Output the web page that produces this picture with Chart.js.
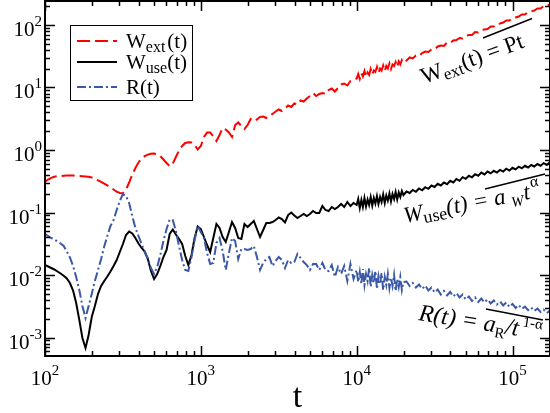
<!DOCTYPE html>
<html><head><meta charset="utf-8">
<script src="https://cdn.jsdelivr.net/npm/chart.js@4/dist/chart.umd.min.js"></script>
<style>html,body{margin:0;padding:0;background:#fff;}#wrap{width:550px;height:413px;}</style>
</head><body><div id="wrap"><canvas id="c" width="550" height="413"></canvas></div>
<script>
// time axis samples
const tVals = [100,104.7,109.6,114.8,120.2,125.9,131.8,138.0,144.5,151.4,158.5,166.0,173.8,182.0,190.5,199.5,208.9,218.8,229.1,239.9,
251.2,263.0,275.4,288.4,302.0,316.2,331.1,346.7,363.1,380.2,398.1,416.9,436.5,457.1,478.6,501.2,524.8,549.5,575.4,602.6,
631.0,660.7,691.8,724.4,758.6,794.3,831.8,871.0,912.0,955.0,1000,1047,1096,1148,1202,1259,1318,1380,1445,1514,
1585,1660,1738,1820,1905,1995,2089,2188,2291,2399,2512,2630,2754,2884,3020,3162,3311,3467,3631,3802,
3981,4169,4365,4571,4786,5012,5248,5495,5754,6026,6310,6607,6918,7244,7586,7943,8318,8710,9120,9550,
10000,10230,10470,10720,10960,11220,11480,11750,12020,12300,12590,12880,13180,13490,13800,14130,14450,14790,15140,15490,
15850,16220,16600,16980,17380,17780,18200,18620,19050,19500,19950,20890,21880,22910,23990,25120,26300,27540,28840,30200,
31620,33110,34670,36310,38020,39810,41690,43650,45710,47860,50120,52480,54950,57540,60260,63100,66070,69180,72440,75860,
79430,83180,87100,91200,95500,100000,104700,109600,114800,120200,125900,131800,138000,144500,151400,158500,166000,173800];

const wExt = [0.311,0.337,0.359,0.374,0.381,0.384,0.387,0.390,0.391,0.390,0.387,0.384,0.381,0.377,0.372,0.363,0.350,0.327,0.308,0.290,
0.271,0.253,0.233,0.215,0.205,0.203,0.233,0.302,0.405,0.515,0.631,0.731,0.796,0.844,0.872,0.876,0.853,0.796,0.705,0.619,
0.549,0.608,0.773,0.982,1.159,1.294,1.333,1.318,1.202,1.019,1.159,1.614,1.905,1.905,1.644,1.393,1.738,2.249,2.128,1.905,
1.614,2.512,2.754,2.421,2.168,2.512,3.133,2.911,3.076,3.373,3.436,3.251,3.565,3.767,4.130,4.446,4.207,4.613,5.152,4.875,
5.546,5.346,6.194,5.970,6.668,7.311,8.166,7.311,7.870,8.166,7.870,9.120,9.638,8.630,9.817,11.17,11.59,10.76,12.71,13.18,
13.93,16.44,13.68,17.06,15.00,18.37,14.72,17.38,15.85,19.77,16.14,18.71,17.70,21.28,17.06,20.14,18.71,22.49,18.37,22.08,
20.14,24.21,19.77,23.33,22.08,25.59,21.28,26.06,23.33,27.54,25.12,27.04,30.20,29.11,32.51,31.92,35.65,37.67,36.98,40.55,
40.55,45.29,46.99,46.13,52.48,51.52,56.49,57.54,61.94,60.81,66.68,69.18,69.18,77.27,75.86,83.18,84.72,86.30,94.62,94.62,
103.7,105.7,109.6,118.0,118.0,129.4,131.8,136.8,147.2,147.2,161.4,164.4,170.6,183.7,183.7,201.4,205.1,212.8];

const wUse = [0.01445,0.01368,0.01294,0.01225,0.01138,0.01057,0.00971,0.00879,0.00745,0.00565,0.00356,0.00191,0.000982,0.000679,0.001096,0.00213,0.00319,0.00497,0.00667,0.00802,
0.00946,0.01138,0.01393,0.01738,0.02333,0.03133,0.04365,0.04966,0.04613,0.03908,0.03192,0.02704,0.02377,0.01803,0.01159,0.00863,0.01038,0.01393,0.01941,0.02512,
0.04529,0.05346,0.04446,0.03767,0.03133,0.02014,0.01445,0.02089,0.03908,0.0597,0.05445,0.04055,0.0302,0.02333,0.03908,0.06546,0.05649,0.04055,0.03373,0.04875,
0.07047,0.05649,0.03908,0.03767,0.06546,0.05861,0.06546,0.07311,0.05445,0.04055,0.05248,0.06792,0.06792,0.07047,0.07586,0.08318,0.0787,0.06918,0.0912,0.1,
0.08954,0.08166,0.0879,0.09462,0.0879,0.09462,0.1057,0.0982,0.0982,0.127,0.1096,0.1057,0.1225,0.1138,0.1225,0.1368,0.1225,0.1472,0.127,0.1419,
0.1318,0.1644,0.118,0.1585,0.1225,0.1706,0.1247,0.1614,0.1318,0.177,0.1294,0.1706,0.1393,0.1837,0.1368,0.177,0.1472,0.1941,0.1419,0.1871,
0.1556,0.2014,0.15,0.1977,0.1644,0.2128,0.1614,0.2089,0.177,0.2208,0.1905,0.2168,0.2051,0.2291,0.2144,0.2421,0.2266,0.254,0.2395,0.2704,
0.2559,0.2879,0.2704,0.302,0.2837,0.3216,0.302,0.3436,0.3216,0.3671,0.3462,0.3866,0.3658,0.41,0.3881,0.4349,0.407,0.4512,0.4223,0.4647,
0.4349,0.4804,0.4512,0.5022,0.4699,0.5191,0.4893,0.5405,0.5078,0.5587,0.5248,0.5754,0.5445,0.597,0.5608,0.6171,0.5797,0.6332];

const rVals = [0.04529,0.04207,0.03908,0.03698,0.03436,0.03192,0.02911,0.02377,0.01905,0.01393,0.00929,0.00575,0.00319,0.00205,0.00319,0.00497,0.00802,0.01202,0.01803,0.02858,
0.04207,0.06081,0.07586,0.1096,0.1528,0.1977,0.1837,0.1419,0.0879,0.05649,0.04207,0.03133,0.02333,0.01837,0.01294,0.01038,0.01343,0.02089,0.03499,0.05445,
0.07727,0.07586,0.05058,0.02911,0.01738,0.01202,0.01159,0.01941,0.03631,0.06081,0.04875,0.03908,0.02249,0.015,0.01556,0.03251,0.03908,0.02421,0.01202,0.02249,
0.03908,0.03499,0.01803,0.02606,0.02606,0.02512,0.02606,0.02911,0.01941,0.01202,0.01556,0.01803,0.01941,0.01393,0.01675,0.01941,0.01738,0.01294,0.01738,0.01556,
0.01614,0.02168,0.01871,0.01614,0.01445,0.01202,0.015,0.015,0.01202,0.01556,0.01202,0.01159,0.01445,0.00929,0.01343,0.01038,0.01393,0.00802,0.015,0.00863,
0.01202,0.00773,0.01117,0.00718,0.01247,0.00692,0.01038,0.00802,0.01294,0.00643,0.01,0.00745,0.01159,0.00597,0.00964,0.00718,0.01076,0.00575,0.00929,0.00692,
0.01038,0.00619,0.00895,0.00667,0.01,0.00555,0.00863,0.00643,0.00929,0.00575,0.00773,0.00787,0.00667,0.00745,0.00631,0.00705,0.00597,0.00679,0.00565,0.00631,
0.00525,0.00586,0.00488,0.00555,0.0047,0.00535,0.00453,0.00515,0.00437,0.00488,0.00406,0.00453,0.00384,0.00437,0.0037,0.00421,0.00363,0.00406,0.0035,0.00391,
0.00337,0.00377,0.00325,0.00363,0.00308,0.00344,0.00297,0.00331,0.00286,0.00313,0.00275,0.00302,0.00265,0.00291,0.00256,0.0028,0.00247,0.0027];

const xTickExps = [2, 3, 4, 5];
const yTickExps = [-3, -2, -1, 0, 1, 2];
const xTitle = 't';

const SERIF = '"Liberation Serif", "Times New Roman", serif';
const RED = 'rgb(255,0,0)', BLACK = '#000', BLUE = 'rgb(58,88,168)';
const DASH_EXT = [13, 5], DASH_R = [9, 3, 2, 3];

function pts(vals){ return tVals.map((t, i) => ({x: t, y: vals[i]})); }

function rich(ctx, x, y, ang, parts){
  ctx.save();
  ctx.translate(x, y);
  ctx.rotate(ang * Math.PI / 180);
  ctx.textBaseline = 'alphabetic';
  ctx.textAlign = 'left';
  let cx = 0;
  for (const p of parts){
    ctx.font = (p.it ? 'italic ' : '') + p.sz + 'px ' + SERIF;
    cx += (p.pre || 0);
    ctx.fillText(p.t, cx, p.dy || 0);
    cx += ctx.measureText(p.t).width;
  }
  ctx.restore();
}
function richWidth(ctx, parts){
  let w = 0;
  for (const p of parts){ ctx.font = (p.it ? 'italic ' : '') + p.sz + 'px ' + SERIF; w += (p.pre||0) + ctx.measureText(p.t).width; }
  return w;
}
function supExp(e){ return e < 0 ? '-' + Math.abs(e) : String(e); }

const decor = {
  id: 'decor',
  afterDatasetsDraw(chart){
    const ctx = chart.ctx, a = chart.chartArea;
    const xs = chart.scales.x, ys = chart.scales.y;
    ctx.save();
    ctx.strokeStyle = '#000';
    ctx.fillStyle = '#000';
    // frame
    ctx.lineWidth = 2;
    ctx.strokeRect(a.left, a.top, a.right - a.left, a.bottom - a.top);
    // ticks
    ctx.lineWidth = 1.5;
    ctx.beginPath();
    for (let d = 2; d <= 5; d++){
      for (let m = 1; m <= 9; m++){
        const v = m * Math.pow(10, d);
        if (v < xs.min || v > xs.max) continue;
        const px = Math.round(xs.getPixelForValue(v)) + 0.5;
        const L = m === 1 ? 10 : 5;
        ctx.moveTo(px, a.bottom); ctx.lineTo(px, a.bottom - L);
        ctx.moveTo(px, a.top); ctx.lineTo(px, a.top + L);
      }
    }
    for (let d = -4; d <= 2; d++){
      for (let m = 1; m <= 9; m++){
        const v = m * Math.pow(10, d);
        if (v < ys.min || v > ys.max) continue;
        const py = Math.round(ys.getPixelForValue(v)) + 0.5;
        const L = m === 1 ? 10 : 5;
        ctx.moveTo(a.left, py); ctx.lineTo(a.left + L, py);
        ctx.moveTo(a.right, py); ctx.lineTo(a.right - L, py);
      }
    }
    ctx.stroke();
    // x tick labels
    for (const e of xTickExps){
      const px = xs.getPixelForValue(Math.pow(10, e));
      const parts = [{t: '10', sz: 21}, {t: supExp(e), sz: 15, dy: -10}];
      const w = richWidth(ctx, parts);
      rich(ctx, px - w / 2, 385, 0, parts);
    }
    // y tick labels
    for (const e of yTickExps){
      const py = ys.getPixelForValue(Math.pow(10, e));
      const parts = [{t: '10', sz: 21}, {t: supExp(e), sz: 15, dy: -10}];
      const w = richWidth(ctx, parts);
      rich(ctx, 42 - w, py + 11, 0, parts);
    }
    // axis title
    ctx.font = '34px ' + SERIF;
    ctx.textAlign = 'center';
    ctx.fillText(xTitle, (a.left + a.right) / 2, 407);
    // legend
    ctx.lineWidth = 1;
    ctx.strokeRect(70.5, 25.5, 122, 75);
    const rows = [
      {y: 41, color: RED, dash: DASH_EXT, base: 48, parts: [{t: 'W', sz: 21}, {t: 'ext', sz: 16, dy: 4}, {t: '(t)', sz: 21, pre: 2}]},
      {y: 62, color: BLACK, dash: [], base: 69, parts: [{t: 'W', sz: 21}, {t: 'use', sz: 16, dy: 4}, {t: '(t)', sz: 21}]},
      {y: 87, color: BLUE, dash: DASH_R, base: 94, parts: [{t: 'R(t)', sz: 21}]}
    ];
    for (const r of rows){
      ctx.save();
      ctx.strokeStyle = r.color; ctx.lineWidth = 2; ctx.setLineDash(r.dash);
      ctx.beginPath(); ctx.moveTo(77, r.y); ctx.lineTo(117, r.y); ctx.stroke();
      ctx.restore();
      rich(ctx, 126, r.base, 0, r.parts);
    }
    // annotations
    ctx.lineWidth = 1.5;
    ctx.beginPath();
    ctx.moveTo(483, 38); ctx.lineTo(532, 18.5);
    ctx.moveTo(485, 189); ctx.lineTo(545, 174);
    ctx.moveTo(486, 309); ctx.lineTo(543, 320);
    ctx.stroke();
    rich(ctx, 424, 84, -20, [{t: 'W', sz: 23}, {t: 'ext', sz: 17, dy: 4}, {t: '(t) = Pt', sz: 23}]);
    rich(ctx, 405, 223, -11, [{t: 'W', sz: 23, it: true}, {t: 'use', sz: 18, dy: 4}, {t: '(t) = a', sz: 23, it: true}, {t: 'W', sz: 15, it: true, dy: 5, pre: 5}, {t: 't', sz: 23, it: true, pre: 1}, {t: 'α', sz: 16, dy: -11, pre: 2}]);
    rich(ctx, 418, 320, 9, [{t: 'R(t) = a', sz: 24, it: true}, {t: 'R', sz: 15, dy: 5}, {t: '/t', sz: 24, it: true}, {t: '1-α', sz: 15, dy: -10, pre: 3}]);
    ctx.restore();
  }
};

new Chart(document.getElementById('c'), {
  type: 'line',
  data: {
    datasets: [
      {label: 'W_ext(t)', data: pts(wExt), borderColor: RED, borderWidth: 2, borderDash: DASH_EXT, pointRadius: 0, fill: false, tension: 0, order: 2},
      {label: 'W_use(t)', data: pts(wUse), borderColor: BLACK, borderWidth: 2, pointRadius: 0, fill: false, tension: 0, order: 1},
      {label: 'R(t)', data: pts(rVals), borderColor: BLUE, borderWidth: 2, borderDash: DASH_R, pointRadius: 0, fill: false, tension: 0, order: 0}
    ]
  },
  options: {
    responsive: false,
    animation: false,
    devicePixelRatio: 1,
    layout: {padding: {left: 45, top: 1, right: 0, bottom: 57}},
    scales: {
      x: {type: 'logarithmic', min: 100, max: 174000, display: false},
      y: {type: 'logarithmic', min: 5.06e-4, max: 242, display: false}
    },
    plugins: {legend: {display: false}, tooltip: {enabled: false}}
  },
  plugins: [decor]
});
</script>
</body></html>
